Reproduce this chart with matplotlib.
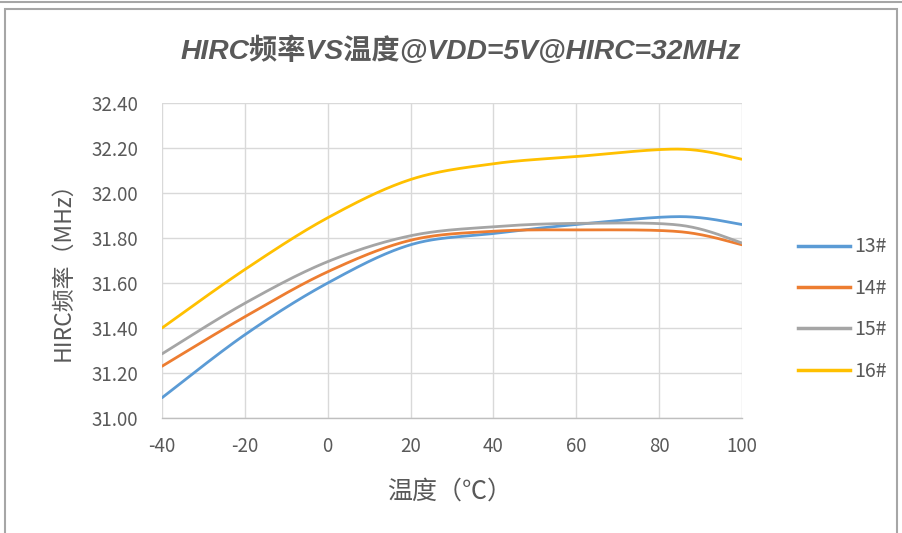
import numpy as np
import matplotlib
matplotlib.use("Agg")
import matplotlib.pyplot as plt
from matplotlib.lines import Line2D
from matplotlib.patches import Rectangle

plt.rcParams['font.family'] = ['Noto Sans CJK SC', 'DejaVu Sans']

temps = [-40, -20, 0, 20, 40, 60, 85, 100]
series_names = ["13#", "14#", "15#", "16#"]
s13 = [31.09, 31.37, 31.60, 31.77, 31.82, 31.86, 31.895, 31.86]
s14 = [31.23, 31.45, 31.65, 31.79, 31.83, 31.836, 31.828, 31.77]
s15 = [31.285, 31.51, 31.695, 31.81, 31.85, 31.865, 31.857, 31.778]
s16 = [31.40, 31.66, 31.89, 32.06, 32.13, 32.162, 32.195, 32.15]
colors = ["#5b9bd5", "#ed7d31", "#a5a5a5", "#ffc000"]
xticks = [-40, -20, 0, 20, 40, 60, 80, 100]
yticks = [31.00, 31.20, 31.40, 31.60, 31.80, 32.00, 32.20, 32.40]

W, H = 902, 533
fig = plt.figure(figsize=(W / 100, H / 100), dpi=100)
ax = fig.add_axes([162 / W, 1 - 418 / H, (742 - 162) / W, (418 - 103) / H])
ax.set_xlim(-40, 100)
ax.set_ylim(31.0, 32.4)


def smooth(xs, ys, ax):
    # Excel-like smoothing: Bezier segments with Catmull-Rom control points in display space
    pts = ax.transData.transform(np.column_stack([xs, ys]))
    n = len(pts)
    out = []
    for i in range(n - 1):
        p0 = pts[max(i - 1, 0)]
        p1 = pts[i]
        p2 = pts[i + 1]
        p3 = pts[min(i + 2, n - 1)]
        c1 = p1 + (p2 - p0) / 6.0
        c2 = p2 - (p3 - p1) / 6.0
        t = np.linspace(0, 1, 40)[:, None]
        seg = ((1 - t) ** 3) * p1 + 3 * ((1 - t) ** 2) * t * c1 + 3 * (1 - t) * t ** 2 * c2 + t ** 3 * p2
        out.append(seg if i == 0 else seg[1:])
    out = np.vstack(out)
    return ax.transData.inverted().transform(out)


for name, ys, c in zip(series_names, [s13, s14, s15, s16], colors):
    cur = smooth(temps, ys, ax)
    ax.plot(cur[:, 0], cur[:, 1], color=c, lw=2.0, solid_capstyle='round', label=name, zorder=3)

ax.set_xticks(xticks)
ax.set_yticks(yticks)
ax.set_xticklabels([str(v) for v in xticks])
ax.set_yticklabels([f"{v:.2f}" for v in yticks])
ax.grid(True, color="#d9d9d9", lw=1.0)
ax.set_axisbelow(True)
for s in ["top", "right", "left"]:
    ax.spines[s].set_visible(False)
ax.spines["bottom"].set_color("#bfbfbf")
ax.spines["bottom"].set_linewidth(1.0)
ax.tick_params(axis='both', length=0, colors="#595959", labelsize=13.5)
ax.tick_params(axis='y', pad=17)
ax.tick_params(axis='x', pad=13)

fig.text(461 / W, 1 - 51 / H, "HIRC频率VS温度@VDD=5V@HIRC=32MHz", ha='center', va='center',
         fontsize=20.3, fontweight='bold', style='italic', color="#595959",
         family=['Liberation Sans', 'Noto Sans CJK SC'])
fig.text(63 / W, 1 - 266 / H, "HIRC频率（MHz）", ha='center', va='center', rotation=90,
         fontsize=16.5, color="#595959")
fig.text(450 / W, 1 - 492 / H, "温度（℃）", ha='center', va='center', fontsize=18, color="#595959")

handles = [Line2D([0], [0], color=c, lw=2.5) for c in colors]
leg = fig.legend(handles, series_names, loc='center left', bbox_to_anchor=(798 / W, 1 - 309 / H),
                 frameon=False, fontsize=14, handlelength=2.68, labelspacing=1.05, handletextpad=0.2,
                 borderpad=0, borderaxespad=0)
for t in leg.get_texts():
    t.set_color("#595959")

# screenshot frame
fig.add_artist(Line2D([0, 1], [1 - 1.5 / H, 1 - 1.5 / H], color="#a6a6a6", lw=1.5, transform=fig.transFigure))
fig.add_artist(Rectangle((5 / W, -0.01), (897 - 5) / W, 1 - 9 / H + 0.01, fill=False,
                         edgecolor="#a6a6a6", lw=1.5, transform=fig.transFigure))

fig.savefig("out.png", dpi=100)
